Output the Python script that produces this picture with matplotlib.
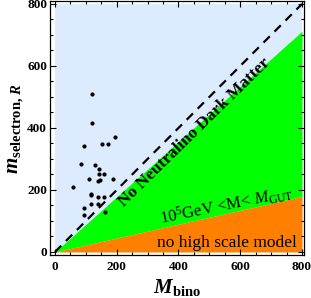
import matplotlib
matplotlib.use('Agg')
import matplotlib.pyplot as plt
from matplotlib.ticker import MultipleLocator

plt.rcParams['font.family'] = ['Liberation Serif', 'DejaVu Serif']
plt.rcParams['mathtext.fontset'] = 'custom'
plt.rcParams['mathtext.rm'] = 'Liberation Serif'
plt.rcParams['mathtext.it'] = 'Liberation Serif:italic'
plt.rcParams['mathtext.bf'] = 'Liberation Serif:bold'
plt.rcParams['mathtext.bfit'] = 'Liberation Serif:bold:italic'

# Scatter points (bino mass, right-handed selectron mass) in GeV
bino_mass = [119, 119, 196, 151, 171, 93, 85, 129, 143, 160, 143, 110, 146,
             140, 189, 59, 118, 117, 138, 159, 117, 138, 95, 161, 95]
selectron_mass = [510, 415, 372, 349, 348, 342, 283, 280, 268, 252, 251, 236,
                  232, 229, 235, 211, 188, 185, 177, 177, 155, 154, 143, 129, 118]

# Region boundaries
edge_x = [0, 800]
dm_line = [0, 800]        # m_selectron = M_bino
gut_line = [0, 712]       # upper edge of 10^5 GeV < M < M_GUT
low_line = [0, 179]       # upper edge of "no high scale model"

fig = plt.figure(figsize=(3.11, 2.98), dpi=100)
ax = fig.add_axes([0.1608, 0.1443, 0.8167, 0.8507])

# background regions
ax.fill_between(edge_x, [0, 0], [800, 800], color='#dcebfd', lw=0, zorder=0)
ax.fill_between(edge_x, low_line, gut_line, color='#00ff00', lw=0, zorder=1)
ax.fill_between(edge_x, [0, 0], low_line, color='#ff8000', lw=0, zorder=1)
ax.plot(edge_x, dm_line, color='black', lw=1.6, dashes=(4, 3), zorder=2)

ax.scatter(bino_mass, selectron_mass, s=9, color='black', zorder=3, lw=0)

ax.text(452, 387, 'No Neutralino Dark Matter', rotation=44.4,
        ha='center', va='center', fontsize=12.5, fontweight='bold',
        zorder=4, rotation_mode='anchor')
ax.text(557, 150, r'$10^5$GeV <M< $M_{\rm GUT}$', rotation=11.5,
        ha='center', va='center', fontsize=12, zorder=4,
        rotation_mode='anchor')
ax.text(558, 30, 'no high scale model', ha='center', va='center',
        fontsize=12.5, zorder=4)

ax.set_xlim(-16, 806.5)
ax.set_ylim(-9.7, 808)

ax.xaxis.set_major_locator(MultipleLocator(200))
ax.xaxis.set_minor_locator(MultipleLocator(50))
ax.yaxis.set_major_locator(MultipleLocator(200))
ax.yaxis.set_minor_locator(MultipleLocator(50))
ax.tick_params(which='both', direction='in', top=True, right=True,
               labelsize=9.5, width=0.8)
ax.tick_params(which='major', length=4)
ax.tick_params(which='minor', length=2)
ax.tick_params(axis='x', pad=4)
ax.tick_params(axis='y', pad=2)
for lab in ax.get_xticklabels() + ax.get_yticklabels():
    lab.set_fontweight('bold')

ax.set_xlabel(r'$\mathbfit{M}_{\mathbf{bino}}$', fontsize=15, labelpad=3)
ax.set_ylabel(r'$\mathbfit{m}_{\mathbf{selectron,}\,\mathbfit{R}}$',
              fontsize=15, labelpad=1)

for sp in ax.spines.values():
    sp.set_linewidth(0.9)

fig.savefig('out.png', dpi=100)
